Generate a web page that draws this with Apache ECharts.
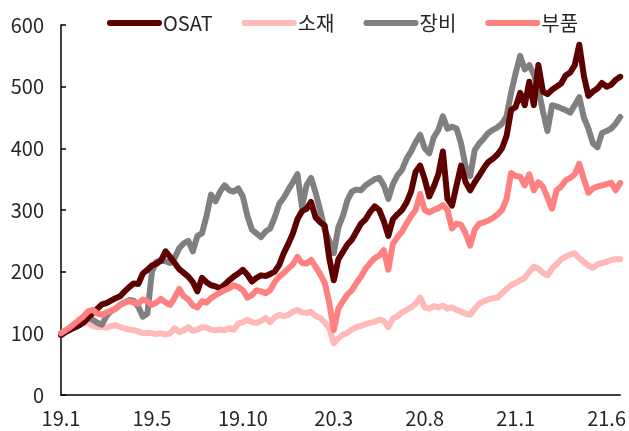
<!DOCTYPE html>
<html>
<head>
<meta charset="utf-8">
<style>
  html, body { margin: 0; padding: 0; background: #fff; }
  #chart { width: 629px; height: 431px; }
</style>
<script src="https://cdn.jsdelivr.net/npm/echarts@6/dist/echarts.min.js"></script>
</head>
<body>
<div id="chart"></div>
<script>
// Weekly index levels, start = 100 (Jan 2019 – Jun 2021)
const tickLabels = ['19.1', '19.5', '19.10', '20.3', '20.8', '21.1', '21.6'];
const tickEvery = 20;

const osat = [
  97, 102, 106, 110, 113, 118, 126, 133, 140, 147,
  149, 153, 157, 160, 168, 175, 181, 180, 197, 203,
  210, 213, 218, 233, 224, 214, 204, 198, 192, 183,
  168, 190, 183, 178, 176, 173, 179, 186, 192, 197,
  203, 195, 184, 190, 194, 193, 196, 200, 211, 230,
  245, 262, 285, 298, 302, 313, 288, 280, 275, 222,
  186, 220, 232, 244, 252, 265, 278, 285, 297, 306,
  300, 282, 258, 285, 293, 300, 312, 330, 362, 372,
  350, 322, 338, 358, 395, 318, 307, 340, 372, 345,
  332, 345, 356, 368, 378, 383, 390, 400, 420, 462,
  467, 490, 470, 508, 470, 535, 492, 488, 495, 500,
  505, 518, 523, 535, 568, 518, 485, 492, 497, 506,
  500, 503, 511, 516
];

const sojae = [
  97, 102, 106, 110, 114, 118, 117, 112, 110, 111,
  109, 112, 113, 110, 108, 106, 105, 103, 100, 101,
  100, 99, 100, 98, 100, 108, 102, 105, 110, 104,
  106, 110, 109, 106, 105, 106, 105, 108, 106, 116,
  118, 122, 118, 117, 120, 125, 118, 126, 130, 128,
  130, 135, 138, 134, 133, 135, 128, 125, 118, 108,
  84, 92, 98, 101, 106, 110, 112, 115, 117, 119,
  122, 120, 110, 124, 128, 134, 138, 142, 148, 158,
  142, 140, 144, 142, 145, 140, 142, 138, 135, 132,
  130, 140, 148, 152, 155, 157, 158, 165, 172, 178,
  182, 186, 190, 200, 208, 205, 198, 194, 205, 212,
  220, 224, 228, 230, 222, 216, 210, 206, 212, 214,
  216, 219, 220, 220
];

const jangbi = [
  100, 103, 106, 109, 113, 118, 125, 122, 117, 114,
  128, 136, 140, 146, 150, 154, 153, 143, 127, 132,
  200, 216, 219, 217, 214, 222, 238, 246, 250, 233,
  258, 262, 290, 325, 314, 330, 340, 332, 330, 335,
  322, 290, 268, 262, 256, 265, 270, 288, 310, 320,
  333, 345, 358, 305, 340, 352, 328, 300, 268, 250,
  230, 272, 290, 316, 330, 333, 332, 340, 345, 350,
  352, 340, 318, 342, 356, 365, 383, 395, 410, 422,
  400, 392, 418, 430, 452, 432, 435, 432, 408, 370,
  355, 397, 408, 416, 425, 430, 434, 440, 452, 490,
  522, 550, 528, 535, 520, 496, 460, 428, 470, 468,
  465, 462, 458, 470, 483, 450, 432, 408, 402, 425,
  428, 432, 440, 451
];

const bupum = [
  100, 105, 110, 116, 122, 128, 136, 138, 132, 130,
  134, 136, 140, 146, 150, 152, 150, 148, 155, 152,
  146, 150, 156, 150, 146, 158, 172, 160, 155, 145,
  142, 152, 150, 157, 162, 166, 170, 173, 178, 175,
  170, 158, 162, 170, 168, 165, 170, 183, 192, 198,
  205, 212, 224, 214, 213, 219, 208, 196, 182, 150,
  105, 140, 152, 163, 170, 182, 192, 205, 214, 222,
  226, 235, 203, 245, 256, 265, 278, 290, 300, 326,
  300, 296, 300, 303, 308, 300, 270, 278, 276, 262,
  242, 268, 278, 280, 283, 287, 293, 300, 318, 360,
  355, 354, 340, 358, 332, 345, 338, 320, 302, 332,
  338, 348, 352, 358, 375, 350, 328, 335, 338, 340,
  342, 344, 332, 344
];

const categories = osat.map((_, i) => String(i));

const FONT = "'Noto Sans CJK KR', 'Liberation Sans', sans-serif";
const TEXT = '#262626';

function lineSeries(name, data, color, z) {
  return {
    name: name,
    type: 'line',
    data: data,
    z: z,
    showSymbol: false,
    symbol: 'none',
    smooth: false,
    lineStyle: { color: color, width: 6, cap: 'round', join: 'round' },
    itemStyle: { color: color }
  };
}

// capsule-shaped legend marker
const capsule = 'path://M3,0 L52,0 A3,3 0 0 1 52,6 L3,6 A3,3 0 0 1 3,0 Z';

const chart = echarts.init(document.getElementById('chart'), null, { renderer: 'canvas' });
chart.setOption({
  animation: false,
  backgroundColor: '#ffffff',
  textStyle: { fontFamily: FONT },
  grid: { left: 61, right: 6, top: 25, bottom: 36, containLabel: false },
  legend: {
    left: 102,
    top: 8,
    itemWidth: 55,
    itemHeight: 7,
    itemGap: 29,
    icon: capsule,
    textStyle: { fontFamily: FONT, fontSize: 20, color: TEXT, padding: [0, 0, 0, -4] },
    data: ['OSAT', '소재', '장비', '부품']
  },
  xAxis: {
    type: 'category',
    data: categories,
    boundaryGap: false,
    axisLine: { lineStyle: { color: '#000', width: 1.5 } },
    axisTick: { show: false },
    splitLine: { show: false },
    axisLabel: {
      interval: tickEvery - 1,
      margin: 13,
      fontSize: 20,
      color: TEXT,
      fontFamily: FONT,
      formatter: (v, idx) => (idx % tickEvery === 0 ? tickLabels[idx / tickEvery] || '' : '')
    }
  },
  yAxis: {
    type: 'value',
    min: 0,
    max: 600,
    interval: 100,
    axisLine: { show: true, lineStyle: { color: '#000', width: 1.5 } },
    axisTick: { show: true, inside: true, length: 5, lineStyle: { color: '#000', width: 1.5 } },
    splitLine: { show: false },
    axisLabel: { margin: 17, fontSize: 20, color: TEXT, fontFamily: FONT }
  },
  series: [
    lineSeries('OSAT', osat, '#5e0000', 4),
    lineSeries('소재', sojae, '#ffb9b9', 2),
    lineSeries('장비', jangbi, '#808080', 3),
    lineSeries('부품', bupum, '#ff8080', 5)
  ]
});
</script>
</body>
</html>
